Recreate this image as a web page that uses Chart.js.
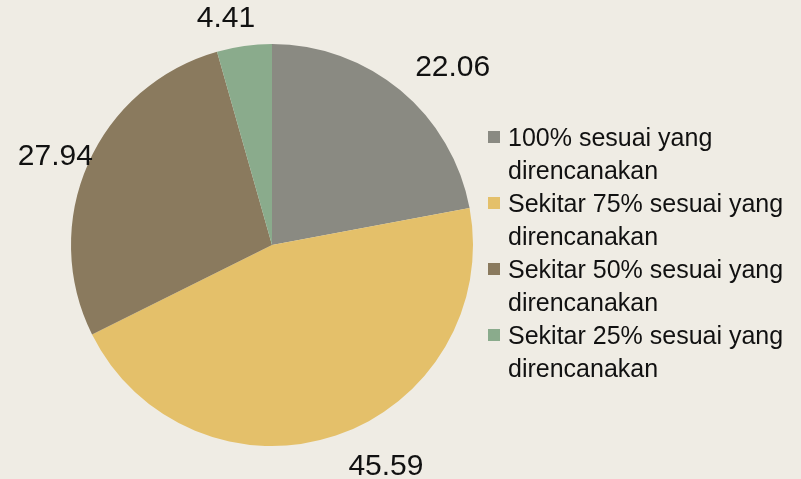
<!DOCTYPE html>
<html>
<head>
<meta charset="utf-8">
<script src="https://cdn.jsdelivr.net/npm/chart.js@4.4.0/dist/chart.umd.min.js"></script>
<style>
  html, body { margin: 0; padding: 0; background: #efece4; }
  #wrap { position: relative; width: 801px; height: 479px; }
  #legend { position: absolute; left: 488px; top: 121px; width: 310px;
    font-family: "Liberation Sans", Arial, sans-serif; font-size: 25px; color: #111; }
  .item { display: flex; align-items: flex-start; line-height: 33px; }
  .box { width: 12px; height: 12px; margin: 10px 8px 0 0; flex: none; }
</style>
</head>
<body>
<div id="wrap">
  <canvas id="pie" width="801" height="479"></canvas>
  <div id="legend"></div>
</div>
<script>
const categories = ['100% sesuai yang direncanakan', 'Sekitar 75% sesuai yang direncanakan',
                    'Sekitar 50% sesuai yang direncanakan', 'Sekitar 25% sesuai yang direncanakan'];
const values = [22.06, 45.59, 27.94, 4.41];
const colors = ['#8a8a82', '#e4c06a', '#8a7a5e', '#8aab8c'];

// value labels placed just outside each slice
const outsideLabels = {
  id: 'outsideLabels',
  afterDatasetsDraw(chart, args, opts) {
    const ctx = chart.ctx;
    const meta = chart.getDatasetMeta(0);
    ctx.save();
    ctx.font = '30px "Liberation Sans", Arial, sans-serif';
    ctx.fillStyle = '#111';
    ctx.textAlign = 'center';
    ctx.textBaseline = 'middle';
    meta.data.forEach((arc, i) => {
      const mid = (arc.startAngle + arc.endAngle) / 2;
      const r = arc.outerRadius + opts.gap;
      const nudge = opts.nudge[i] || [0, 0];
      const x = arc.x + Math.cos(mid) * r + nudge[0];
      const y = arc.y + Math.sin(mid) * r + nudge[1];
      ctx.fillText(chart.data.datasets[0].data[i].toFixed(2), x, y);
    });
    ctx.restore();
  }
};

new Chart(document.getElementById('pie'), {
  type: 'pie',
  data: {
    labels: categories,
    datasets: [{
      data: values,
      backgroundColor: colors,
      borderWidth: 0
    }]
  },
  options: {
    responsive: false,
    animation: false,
    layout: { padding: { left: 71, right: 328, top: 44, bottom: 33 } },
    plugins: {
      legend: { display: false },
      tooltip: { enabled: false },
      outsideLabels: { gap: 38, nudge: [[28, 7], [38, -5], [2, 8], [-13, 10]] }
    }
  },
  plugins: [outsideLabels]
});

const legend = document.getElementById('legend');
categories.forEach((c, i) => {
  const item = document.createElement('div');
  item.className = 'item';
  item.innerHTML = '<span class="box" style="background:' + colors[i] + '"></span><span>' + c + '</span>';
  legend.appendChild(item);
});
</script>
</body>
</html>
